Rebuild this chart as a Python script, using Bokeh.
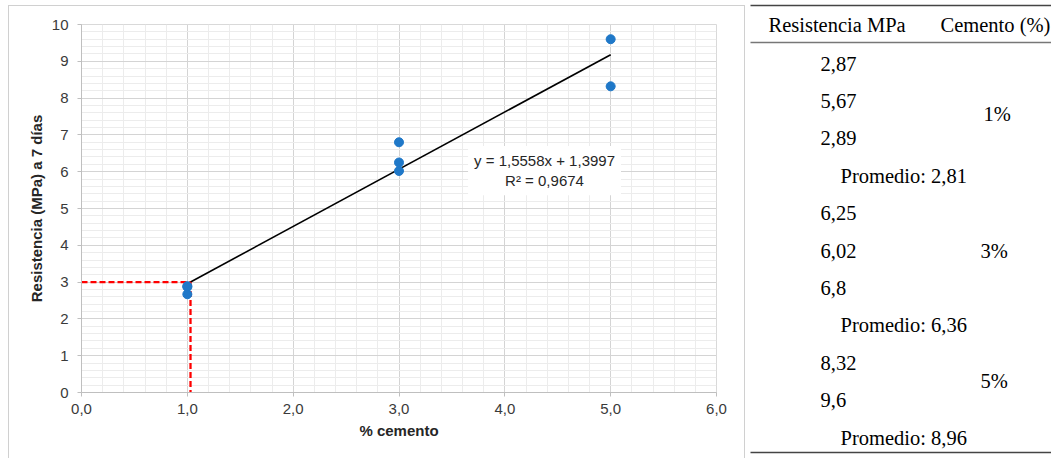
from bokeh.plotting import figure
from bokeh.layouts import row
from bokeh.models import (ColumnDataSource, SingleIntervalTicker, CustomJSTickFormatter,
                          Label, Range1d)
from bokeh.core.properties import value
from bokeh.embed import file_html
from bokeh.resources import INLINE

# ---------------- data ----------------
cemento_pts = [1, 1, 1, 3, 3, 3, 5, 5]
resistencia_pts = [2.87, 2.67, 2.89, 6.25, 6.02, 6.80, 8.32, 9.60]

pendiente = 1.5558
intercepto = 1.3997
r2_texto = "R² = 0,9674"
ecuacion_texto = "y = 1,5558x + 1,3997"
trend_x = [1, 5]

lectura_x = 1.03
lectura_y = 3.0

tabla_header = ["Resistencia MPa", "Cemento (%)"]
tabla_resistencia = ["2,87", "5,67", "2,89", "Promedio: 2,81",
                     "6,25", "6,02", "6,8", "Promedio: 6,36",
                     "8,32", "9,6", "Promedio: 8,96"]
tabla_cemento = ["1%", "3%", "5%"]

# ---------------- chart ----------------
SANS = "Liberation Sans"
SERIF = "Liberation Serif"

p = figure(width=748, height=458, output_backend="svg", toolbar_location=None,
           x_range=Range1d(0, 6), y_range=Range1d(0, 10),
           min_border_left=81, min_border_right=32, min_border_top=24, min_border_bottom=66)
p.background_fill_color = "white"
p.border_fill_color = None
p.outline_line_color = "#d9d9d9"
bc = "#d0d0d0"
p.styles = {
    "background": (f"linear-gradient({bc},{bc}) 8px 5px / 1px 460px no-repeat, "
                   f"linear-gradient({bc},{bc}) 8px 5px / 737px 1px no-repeat, "
                   f"linear-gradient({bc},{bc}) 744px 5px / 1px 460px no-repeat, white"),
}

try:
    p.frame_align = False
except Exception:
    pass

p.xaxis.ticker = SingleIntervalTicker(interval=1, num_minor_ticks=5)
p.yaxis.ticker = SingleIntervalTicker(interval=1, num_minor_ticks=5)
p.xaxis.formatter = CustomJSTickFormatter(code="return tick.toFixed(1).replace('.', ',');")

for ax in (p.xaxis, p.yaxis):
    ax.axis_line_color = "#bfbfbf"
    ax.major_tick_line_color = "#bfbfbf"
    ax.major_tick_out = 4
    ax.major_tick_in = 0
    ax.minor_tick_line_color = None
    ax.major_label_text_font = SANS
    ax.major_label_text_font_size = "15px"
    ax.major_label_text_color = "#3a3a3a"
    ax.axis_label_text_font = SANS
    ax.axis_label_text_font_size = "15px"
    ax.axis_label_text_font_style = "bold"
    ax.axis_label_text_color = "#262626"

p.xaxis.axis_label = "% cemento"
p.yaxis.axis_label = "Resistencia (MPa) a 7 días"
p.xaxis.major_label_standoff = 7
p.yaxis.major_label_standoff = 9
p.xaxis.axis_label_standoff = 5
p.yaxis.axis_label_standoff = 4

p.grid.grid_line_color = "#d4d4d4"
p.grid.grid_line_width = 1
p.grid.minor_grid_line_color = "#ececec"
p.grid.minor_grid_line_width = 1

# trend line
trend_y = [pendiente * x + intercepto for x in trend_x]
p.line(trend_x, trend_y, line_color="black", line_width=1.6)

# red dashed reading lines
p.line([0, lectura_x], [lectura_y, lectura_y], line_color="#ff0000", line_width=2.3, line_dash="6 3")
p.line([lectura_x, lectura_x], [lectura_y, 0], line_color="#ff0000", line_width=2.3, line_dash="6 3")

src = ColumnDataSource(dict(x=cemento_pts, y=resistencia_pts))
p.scatter("x", "y", source=src, size=9, fill_color="#1f78c8", line_color="#1f78c8")

p.add_layout(Label(x=4.375, y=6.03, text=ecuacion_texto + "\n" + r2_texto,
                   text_align="center", text_baseline="middle",
                   text_font=SANS, text_font_size="15px", text_color="#262626",
                   background_fill_color="white", padding=6))

# ---------------- table ----------------
t = figure(width=303, height=458, output_backend="svg", toolbar_location=None,
           x_range=Range1d(0, 303), y_range=Range1d(458, 0),
           min_border=0, min_border_left=0, min_border_right=0,
           min_border_top=0, min_border_bottom=0)
try:
    t.frame_align = False
except Exception:
    pass
t.axis.visible = False
t.grid.visible = False
t.outline_line_color = None
t.background_fill_color = "white"
t.border_fill_color = "white"

# rules
t.line([2, 303], [5, 5], line_color="#444444", line_width=1.5)
t.line([2, 303], [42, 42], line_color="#777777", line_width=1.5)
t.line([2, 303], [452, 452], line_color="#444444", line_width=1.5)

t.text([20, 192], [24, 24], text=tabla_header, text_font=value(SERIF),
       text_font_size="20.5px", text_baseline="middle", text_color="black")

row_y0 = 63
row_dy = 37.4
ys = [row_y0 + i * row_dy for i in range(len(tabla_resistencia))]
xs = [92 if s.startswith("Promedio") else 72 for s in tabla_resistencia]
t.text(xs, ys, text=tabla_resistencia, text_font=value(SERIF),
       text_font_size="20.5px", text_baseline="middle", text_color="black")

grp_rows = [1.35, 5.0, 8.5]
t.text([235, 232, 232], [row_y0 + r * row_dy for r in grp_rows], text=tabla_cemento,
       text_font=value(SERIF), text_font_size="20.5px", text_baseline="middle", text_color="black")

layout = row(p, t, spacing=0)
open("out.html", "w").write(file_html(layout, INLINE))
